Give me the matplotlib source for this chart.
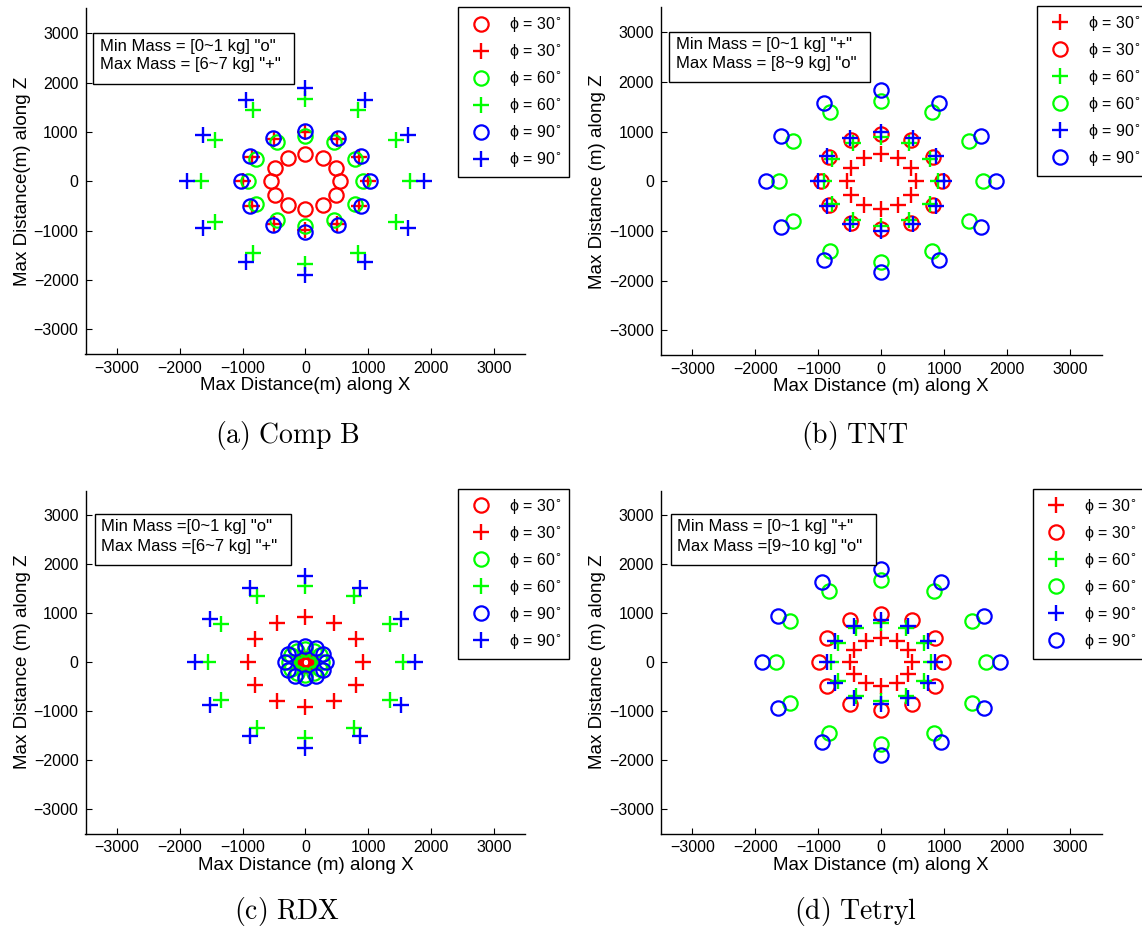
import numpy as np
import matplotlib
matplotlib.use("Agg")
import matplotlib.pyplot as plt
from matplotlib.patches import Rectangle

plt.rcParams['font.family'] = ['Liberation Sans', 'DejaVu Sans']

W, H = 1142, 933

# Launch directions in the X-Z plane (degrees)
angles_deg = [0, 30, 60, 90, 120, 150, 180, 210, 240, 270, 300, 330]
phi_labels = ["30", "60", "90"]
colors = ["#ff0000", "#00ff00", "#0000ff"]

# Maximum distance (m) for phi = 30, 60, 90 degrees
compb_min_r = [555, 910, 1020]
compb_max_r = [990, 1670, 1890]
tnt_min_r = [550, 900, 1000]
tnt_max_r = [960, 1620, 1830]
rdx_min_r = [60, 270, 320]
rdx_max_r = [920, 1545, 1750]
tetryl_min_r = [490, 790, 855]
tetryl_max_r = [985, 1670, 1890]

panels = [
    dict(min_r=compb_min_r, max_r=compb_max_r, min_mk="o", max_mk="+",
         caption=r"$\mathrm{(a)\ Comp\ B}$",
         xlabel="Max Distance(m) along X", ylabel="Max Distance(m) along Z",
         note=['Min Mass = [0~1 kg] "o"', 'Max Mass = [6~7 kg] "+"'],
         ax_box=(85.5, 525.5, 8.5, 354.0),
         leg_xy=(457.8, 7.3), note_box=(93.2, 294.2, 32.7, 84.3),
         note_text=(100.0, 46.0, 64.0), cap_xy=(287, 435)),
    dict(min_r=tnt_min_r, max_r=tnt_max_r, min_mk="+", max_mk="o",
         caption=r"$\mathrm{(b)\ TNT}$",
         xlabel="Max Distance (m) along X", ylabel="Max Distance (m) along Z",
         note=['Min Mass = [0~1 kg] "+"', 'Max Mass = [8~9 kg] "o"'],
         ax_box=(660.8, 1101.5, 7.5, 355.0),
         leg_xy=(1036.8, 5.7), note_box=(669.3, 870.0, 31.7, 82.3),
         note_text=(675.9, 44.3, 63.3), cap_xy=(855, 435)),
    dict(min_r=rdx_min_r, max_r=rdx_max_r, min_mk="o", max_mk="+",
         caption=r"$\mathrm{(c)\ RDX}$",
         xlabel="Max Distance (m) along X", ylabel="Max Distance (m) along Z",
         note=['Min Mass =[0~1 kg] "o"', 'Max Mass =[6~7 kg] "+"'],
         ax_box=(85.5, 525.5, 490.5, 833.5),
         leg_xy=(457.8, 489.0), note_box=(94.7, 291.3, 514.0, 565.0),
         note_text=(101.2, 526.7, 546.0), cap_xy=(287, 912)),
    dict(min_r=tetryl_min_r, max_r=tetryl_max_r, min_mk="+", max_mk="o",
         caption=r"$\mathrm{(d)\ Tetryl}$",
         xlabel="Max Distance (m) along X", ylabel="Max Distance (m) along Z",
         note=['Min Mass = [0~1 kg] "+"', 'Max Mass =[9~10 kg] "o"'],
         ax_box=(660.8, 1101.5, 490.5, 833.5),
         leg_xy=(1032.8, 489.0), note_box=(670.8, 876.2, 514.0, 565.3),
         note_text=(677.3, 526.7, 546.0), cap_xy=(855, 912)),
]

fig = plt.figure(figsize=(W / 100, H / 100), dpi=100)
theta = np.deg2rad(angles_deg)


def marker_style(mk):
    if mk == "o":
        return dict(marker="o", markersize=10.3, markerfacecolor="none", markeredgewidth=1.6)
    return dict(marker="+", markersize=11, markeredgewidth=1.7)


for p in panels:
    l, r, t, b = p["ax_box"]
    ax = fig.add_axes([l / W, 1 - b / H, (r - l) / W, (b - t) / H])
    for i, c in enumerate(colors):
        for key, mk in (("min_r", p["min_mk"]), ("max_r", p["max_mk"])):
            rad = p[key][i]
            ax.plot(rad * np.cos(theta), rad * np.sin(theta), linestyle="none",
                    color=c, markeredgecolor=c,
                    label="\u03d5 = " + phi_labels[i] + r"$^{\circ}$",
                    **marker_style(mk))
    ax.set_xlim(-3500, 3500)
    ax.set_ylim(-3500, 3500)
    ticks = [-3000, -2000, -1000, 0, 1000, 2000, 3000]
    ax.set_xticks(ticks)
    ax.set_yticks(ticks)
    for s in ("top", "right"):
        ax.spines[s].set_visible(False)
    for s in ("left", "bottom"):
        ax.spines[s].set_linewidth(1.0)
    ax.tick_params(direction="in", length=4, width=0.8, labelsize=11.5, pad=5)
    ax.set_xlabel(p["xlabel"], fontsize=13.5, labelpad=1)
    ax.set_ylabel(p["ylabel"], fontsize=13.5, labelpad=2)

    lx, ly = p["leg_xy"]
    leg = ax.legend(loc="upper left", bbox_to_anchor=(lx / W, 1 - ly / H),
                    bbox_transform=fig.transFigure, fontsize=11.5,
                    frameon=True, fancybox=False, edgecolor="black",
                    framealpha=1.0, borderpad=0.5, labelspacing=0.5,
                    handlelength=1.9, handletextpad=0.8, borderaxespad=0.0,
                    numpoints=1)
    leg.get_frame().set_linewidth(1.0)

    x0, x1, y0, y1 = p["note_box"]
    fig.patches.append(Rectangle((x0 / W, 1 - y1 / H), (x1 - x0) / W, (y1 - y0) / H,
                                 transform=fig.transFigure, facecolor="white",
                                 edgecolor="black", linewidth=1.0, zorder=5))
    tx, ty1, ty2 = p["note_text"]
    for line, ty in zip(p["note"], (ty1, ty2)):
        fig.text(tx / W, 1 - ty / H, line, fontsize=12, ha="left", va="center", zorder=6)

    cx, cy = p["cap_xy"]
    fig.text(cx / W, 1 - cy / H, p["caption"], fontsize=20, ha="center", va="center",
             math_fontfamily="cm")

fig.savefig("out.png", dpi=100, facecolor="white")
